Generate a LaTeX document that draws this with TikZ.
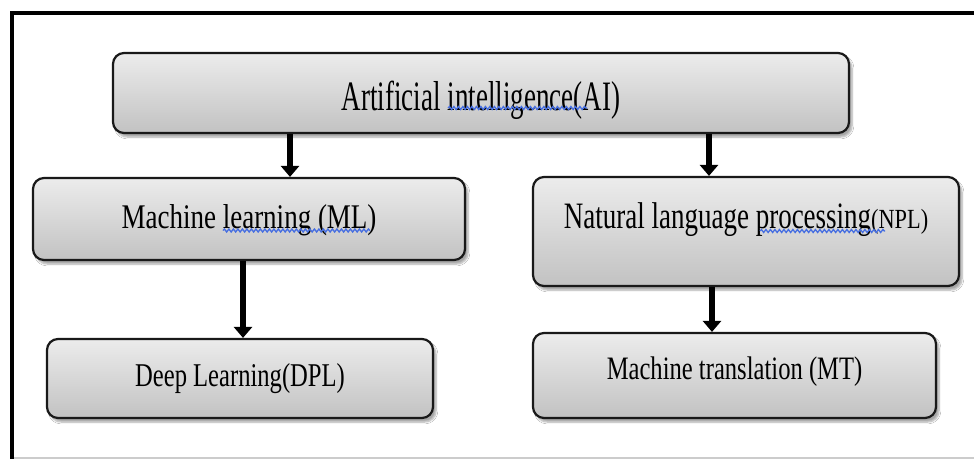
\documentclass[tikz,border=0pt]{standalone}
\usepackage{fontspec}
\setmainfont{Liberation Serif}
\usepackage{graphicx}
\usetikzlibrary{arrows.meta,shadows.blur,decorations.pathmorphing}
\definecolor{boxtop}{RGB}{236,236,236}
\definecolor{boxbot}{RGB}{194,194,194}
\definecolor{spell}{RGB}{70,110,225}
\newcommand\vtxt[2]{\scalebox{1}[#1]{#2}}
\begin{document}
\begin{tikzpicture}[x=1pt,y=-1pt,
  box/.style={draw=black!90, line width=2.2pt, rounded corners=11pt,
    top color=boxtop, bottom color=boxbot,
    blur shadow={shadow xshift=3pt,shadow yshift=-4pt,shadow blur steps=6,shadow opacity=35},
    inner sep=0pt, font=\fontsize{27}{30}\selectfont},
  small/.style={font=\fontsize{24.6}{28}\selectfont},
  arr/.style={line width=5.5pt, -{Triangle[width=18pt,length=11pt]}},
  spellline/.style={draw=spell, line width=1.3pt, decorate,
    decoration={snake, segment length=4.5pt, amplitude=1.5pt}},
  frame/.style={line width=4pt, draw=black}]
\useasboundingbox (0,0) rectangle (974,459);
\fill[white] (0,0) rectangle (974,459);
% frame
\draw[frame] (10,13) -- (974,13);
\draw[frame] (12,11) -- (12,459);
\draw[black!20, line width=1.5pt] (14,458) -- (974,458);
% boxes
\node[box, minimum width=736pt, minimum height=80pt, text height=34pt, text depth=0pt] (ai) at (481,93)
  {\vtxt{1.55}{Artificial intelligence(AI)}};
\node[box, minimum width=432pt, minimum height=82pt, text height=18pt, text depth=0pt] (ml) at (249,219)
  {\vtxt{1.28}{Machine learning (ML)}};
\node[box, minimum width=426pt, minimum height=109pt, text height=10pt, text depth=17pt] (npl) at (746,231.5)
  {\vtxt{1.38}{Natural language processing{\fontsize{22.3}{25}\selectfont\scalebox{1}[0.9]{(NPL)}}}};
\node[box, small, minimum width=386pt, minimum height=79pt, text height=15pt, text depth=0pt] (dpl) at (240,378.5)
  {\vtxt{1.35}{Deep Learning(DPL)}};
\node[box, small, minimum width=403pt, minimum height=85pt, text height=7pt, text depth=0pt] (mt) at (734.5,375.5)
  {\vtxt{1.33}{Machine translation (MT)}};
% arrow columns
\coordinate (c1) at (290,0);
\coordinate (c2) at (709,0);
\coordinate (c3) at (243,0);
\coordinate (c4) at (712,0);
\draw[arr] (ai.south -| c1) -- (ml.north -| c1);
\draw[arr] (ai.south -| c2) -- (npl.north -| c2);
\draw[arr] (ml.south -| c3) -- (dpl.north -| c3);
\draw[arr] (npl.south -| c4) -- (mt.north -| c4);
% spell-check underlines
\draw[spellline] (448,108) -- (587,108);
\draw[spellline] (223,230.5) -- (370,230.5);
\draw[spellline] (760,231) -- (885,231);
\end{tikzpicture}
\end{document}
